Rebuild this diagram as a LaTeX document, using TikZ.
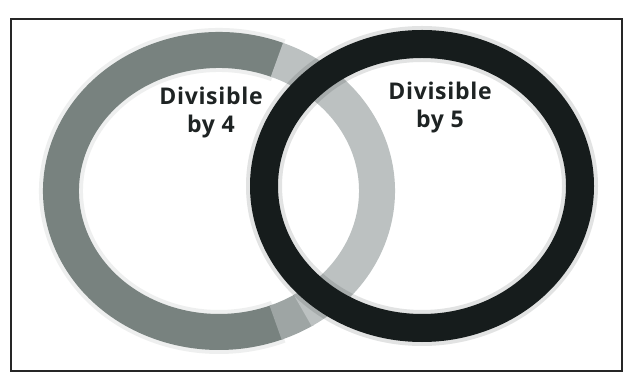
\documentclass[tikz,border=0pt]{standalone}
\usepackage{fontspec}
\setmainfont{Open Sans}
\newfontfamily\lblfont[LetterSpace=3]{Open Sans}
\usetikzlibrary{calc}
\definecolor{ringdark}{HTML}{78827F}
\definecolor{ringmid}{HTML}{9EA5A4}
\definecolor{ringlight}{HTML}{BCC1C1}
\definecolor{ringblack}{HTML}{161C1C}
\definecolor{labelc}{HTML}{1E2323}
\begin{document}
\begin{tikzpicture}[x=1pt,y=1pt,
  lbl/.style={font=\lblfont\bfseries\fontsize{23}{28}\selectfont, align=center, text=labelc},
  grayring/.style={line width=36pt},
  blackring/.style={line width=28pt, draw=ringblack},
  halo/.style={opacity=0.12}]
\useasboundingbox (0,0) rectangle (629,380);
\fill[white] (0,0) rectangle (629,380);
\draw[line width=2pt, black!85] (11,9) rectangle (622,361);
% gray ring (Divisible by 4)
\coordinate (g) at (219,189);
\draw[grayring, draw=ringdark, line width=44pt, halo] ($(g)+(68:158 and 141)$) arc[start angle=68, end angle=292, x radius=158, y radius=141];
\draw[grayring, draw=ringdark] ($(g)+(68:158 and 141)$) arc[start angle=68, end angle=292, x radius=158, y radius=141];
\draw[grayring, draw=ringmid] ($(g)+(291:158 and 141)$) arc[start angle=291, end angle=303, x radius=158, y radius=141];
\draw[grayring, draw=ringlight] ($(g)+(302:158 and 141)$) arc[start angle=302, end angle=428.5, x radius=158, y radius=141];
% black ring (Divisible by 5)
\coordinate (b) at (422,194);
\draw[blackring, line width=36pt, halo] (b) ellipse [x radius=158, y radius=142];
\draw[blackring] (b) ellipse [x radius=158, y radius=142];
% labels
\node[lbl] (l4) at (211,267) {Divisible\\by 4};
\node[lbl] (l5) at (440,272) {Divisible\\by 5};
\end{tikzpicture}
\end{document}
